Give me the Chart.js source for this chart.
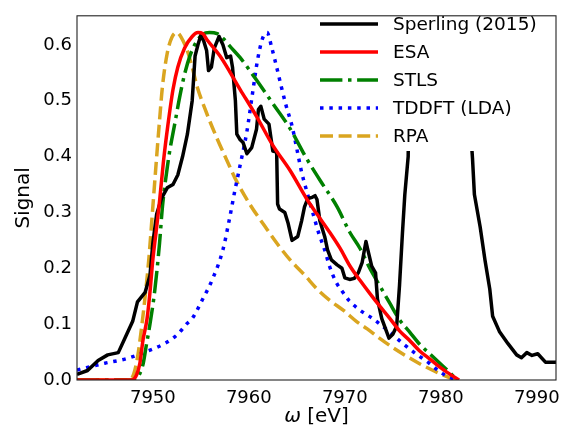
<!DOCTYPE html>
<html>
<head>
<meta charset="utf-8">
<script src="https://cdn.jsdelivr.net/npm/chart.js@4.4.1/dist/chart.umd.min.js"></script>
<style>
  html, body { margin: 0; padding: 0; background: #fff; }
  #wrap { width: 576px; height: 431px; }
</style>
</head>
<body>
<div id="wrap"><canvas id="chart" width="576" height="431"></canvas></div>
<script>
// [energy (eV), signal] pairs
const sperling = [
  [7942.1, 0.010], [7943.2, 0.017], [7944.3, 0.035], [7945.3, 0.045], [7946.4, 0.049],
  [7947.1, 0.075], [7947.9, 0.105], [7948.4, 0.140], [7949.2, 0.157], [7949.7, 0.187],
  [7950.0, 0.245], [7950.4, 0.297], [7950.9, 0.325], [7951.5, 0.344], [7952.1, 0.350],
  [7952.6, 0.367], [7953.1, 0.400], [7953.6, 0.440], [7954.1, 0.500], [7954.4, 0.580],
  [7954.7, 0.600], [7955.0, 0.617], [7955.3, 0.607], [7955.6, 0.590], [7955.8, 0.554],
  [7956.1, 0.560], [7956.4, 0.594], [7956.9, 0.615], [7957.3, 0.600], [7957.7, 0.577],
  [7958.1, 0.580], [7958.3, 0.560], [7958.6, 0.500], [7958.75, 0.440], [7959.1, 0.430],
  [7959.4, 0.425], [7959.8, 0.405], [7960.3, 0.416], [7960.8, 0.449], [7961.0, 0.484],
  [7961.25, 0.490], [7961.6, 0.467], [7962.1, 0.458], [7962.5, 0.410], [7962.9, 0.408],
  [7963.0, 0.315], [7963.2, 0.306], [7963.75, 0.300], [7964.1, 0.280], [7964.5, 0.250],
  [7965.1, 0.257], [7965.5, 0.285], [7965.8, 0.310], [7966.15, 0.325], [7966.6, 0.327],
  [7966.9, 0.330], [7967.1, 0.323], [7967.4, 0.285], [7967.9, 0.257], [7968.2, 0.233],
  [7968.6, 0.215], [7969.2, 0.206], [7969.7, 0.200], [7970.0, 0.183], [7970.5, 0.180],
  [7971.0, 0.182], [7971.4, 0.192], [7971.8, 0.210], [7972.2, 0.248], [7972.4, 0.233],
  [7972.8, 0.204], [7973.2, 0.192], [7973.4, 0.145], [7973.85, 0.110], [7974.6, 0.075],
  [7975.0, 0.082], [7975.4, 0.096], [7975.7, 0.170], [7976.0, 0.262], [7976.25, 0.332],
  [7976.6, 0.400], [7976.8, 0.650], [7978.0, 0.950], [7980.0, 1.000], [7981.5, 0.900],
  [7982.3, 0.650], [7983.3, 0.397], [7983.5, 0.332], [7984.1, 0.274], [7984.6, 0.215],
  [7985.1, 0.163], [7985.4, 0.114], [7986.1, 0.087], [7987.0, 0.065], [7987.9, 0.045],
  [7988.4, 0.040], [7988.96, 0.049], [7989.5, 0.044], [7990.1, 0.047], [7990.9, 0.032],
  [7992.0, 0.032]
];

const esa = [
  [7942.1, 0], [7947.8, 0], [7948.3, 0.009], [7948.65, 0.03], [7948.96, 0.07],
  [7949.4, 0.11], [7949.7, 0.157], [7950.0, 0.215], [7950.4, 0.274], [7950.7, 0.32],
  [7951.1, 0.39], [7951.56, 0.455], [7952.1, 0.52], [7952.6, 0.56], [7953.3, 0.594],
  [7954.1, 0.615], [7954.7, 0.622], [7955.2, 0.62], [7955.6, 0.61], [7957.0, 0.58],
  [7959.1, 0.52], [7960.8, 0.472], [7962.5, 0.42], [7964.3, 0.375], [7966.0, 0.325],
  [7967.1, 0.297], [7968.4, 0.265], [7969.5, 0.236], [7970.5, 0.205], [7971.6, 0.178],
  [7972.6, 0.155], [7973.6, 0.133], [7974.7, 0.11], [7975.7, 0.088], [7976.8, 0.07],
  [7977.8, 0.052], [7978.9, 0.037], [7979.9, 0.023], [7980.9, 0.011], [7981.9, 0]
];

const stls = [
  [7942.1, 0], [7948.2, 0], [7948.6, 0.01], [7949.0, 0.03], [7949.3, 0.06],
  [7949.7, 0.1], [7950.2, 0.16], [7950.7, 0.245], [7951.0, 0.31], [7951.5, 0.38],
  [7951.8, 0.414], [7952.3, 0.46], [7952.8, 0.507], [7953.3, 0.547], [7953.9, 0.582],
  [7954.6, 0.607], [7955.2, 0.619], [7955.9, 0.622], [7956.7, 0.62], [7957.3, 0.612],
  [7958.0, 0.598], [7959.1, 0.577], [7960.8, 0.537], [7962.5, 0.495], [7964.3, 0.45],
  [7966.0, 0.397], [7967.4, 0.358], [7969.2, 0.31], [7970.5, 0.265], [7971.6, 0.235],
  [7972.6, 0.2], [7973.6, 0.17], [7974.7, 0.137], [7975.7, 0.108], [7976.8, 0.085],
  [7977.8, 0.064], [7978.9, 0.046], [7979.9, 0.03], [7980.9, 0.014], [7981.7, 0]
];

const tddft = [
  [7942.1, 0.018], [7945.0, 0.03], [7947.2, 0.038], [7949.2, 0.05], [7951.3, 0.066],
  [7952.6, 0.082], [7953.5, 0.1], [7954.1, 0.11], [7955.2, 0.145], [7956.2, 0.18],
  [7957.3, 0.233], [7958.0, 0.29], [7958.5, 0.335], [7959.1, 0.385], [7959.8, 0.445],
  [7960.4, 0.515], [7960.9, 0.572], [7961.4, 0.61], [7961.9, 0.622], [7962.4, 0.594],
  [7962.9, 0.56], [7963.4, 0.524], [7963.9, 0.49], [7964.5, 0.455], [7965.0, 0.414],
  [7965.5, 0.372], [7966.0, 0.34], [7966.7, 0.297], [7967.3, 0.262], [7967.9, 0.233],
  [7968.4, 0.204], [7969.1, 0.175], [7969.8, 0.157], [7970.4, 0.143], [7971.5, 0.126],
  [7972.9, 0.11], [7974.6, 0.087], [7976.0, 0.066], [7977.4, 0.047], [7978.8, 0.03],
  [7979.8, 0.016], [7981.0, 0.004], [7981.8, 0]
];

const rpa = [
  [7942.1, 0], [7947.5, 0], [7948.0, 0.01], [7948.4, 0.04], [7948.8, 0.09],
  [7949.2, 0.15], [7949.6, 0.22], [7950.0, 0.31], [7950.4, 0.40], [7950.7, 0.465],
  [7951.0, 0.525], [7951.5, 0.585], [7952.0, 0.614], [7952.5, 0.622], [7953.0, 0.612],
  [7953.6, 0.589], [7954.1, 0.56], [7954.6, 0.526], [7955.6, 0.478], [7956.7, 0.432],
  [7957.8, 0.39], [7958.6, 0.36], [7960.2, 0.312], [7961.6, 0.277], [7963.0, 0.243],
  [7964.3, 0.215], [7965.8, 0.188], [7967.1, 0.163], [7968.4, 0.143], [7969.9, 0.124],
  [7971.2, 0.105], [7972.3, 0.092], [7973.6, 0.075], [7975.0, 0.058], [7976.3, 0.044],
  [7977.7, 0.03], [7979.2, 0.017], [7980.2, 0.009], [7981.3, 0.002], [7981.8, 0]
];

const xTicks = [7950, 7960, 7970, 7980, 7990];
const yTicks = [0.0, 0.1, 0.2, 0.3, 0.4, 0.5, 0.6];

const FONT = 'DejaVu Sans';
const LW = 3.5;

const toPts = arr => arr.map(p => ({ x: p[0], y: p[1] }));

// legend order = dataset order; "order" only sets who is drawn on top
const datasets = [
  { label: 'Sperling (2015)', data: toPts(sperling), borderColor: '#000000', order: 1,
    tension: 0, borderJoinStyle: 'round', clip: { left: 0, top: 0, right: 0, bottom: 3 } },
  { label: 'ESA', data: toPts(esa), borderColor: '#ff0000', order: 0 },
  { label: 'STLS', data: toPts(stls), borderColor: '#008000', order: 2,
    borderDash: [22.4, 5.6, 3.5, 5.6] },
  { label: 'TDDFT (LDA)', data: toPts(tddft), borderColor: '#0000ff', order: 3,
    borderDash: [3.5, 5.8] },
  { label: 'RPA', data: toPts(rpa), borderColor: '#daa520', order: 4,
    borderDash: [13, 5.6] }
];
datasets.forEach(d => {
  d.borderWidth = LW;
  d.pointRadius = 0;
  d.fill = false;
  if (d.tension === undefined) d.cubicInterpolationMode = 'monotone';
});

// legend drawn inside the axes on a white box, above the curves
const boxLegend = {
  id: 'boxLegend',
  afterDatasetsDraw(chart) {
    const ctx = chart.ctx;
    const area = chart.chartArea;
    ctx.save();
    ctx.fillStyle = '#ffffff';
    ctx.fillRect(310, 9, area.right - 310, 142);
    chart.data.datasets.forEach((d, i) => {
      const y = 24 + i * 28;
      ctx.beginPath();
      ctx.strokeStyle = d.borderColor;
      ctx.lineWidth = LW;
      ctx.lineCap = 'butt';
      ctx.setLineDash(d.borderDash || []);
      ctx.moveTo(320, y);
      ctx.lineTo(378, y);
      ctx.stroke();
      ctx.setLineDash([]);
      ctx.fillStyle = '#000';
      ctx.font = '18.5px "' + FONT + '"';
      ctx.textBaseline = 'middle';
      ctx.textAlign = 'left';
      ctx.fillText(d.label, 393, y + 1);
    });
    ctx.restore();
  }
};

// axes frame and the x label with italic omega
const frame = {
  id: 'frame',
  afterDraw(chart) {
    const ctx = chart.ctx;
    const a = chart.chartArea;
    ctx.save();
    ctx.strokeStyle = '#222';
    ctx.lineWidth = 1.1;
    ctx.strokeRect(a.left, a.top, a.right - a.left, a.bottom - a.top);

    const sym = 'ω';
    const rest = ' [eV]';
    ctx.textBaseline = 'middle';
    ctx.fillStyle = '#000';
    ctx.font = 'italic 20px "' + FONT + '"';
    const w1 = ctx.measureText(sym).width;
    ctx.font = '20px "' + FONT + '"';
    const w2 = ctx.measureText(rest).width;
    const x0 = (a.left + a.right) / 2 - (w1 + w2) / 2;
    const yText = 417;
    ctx.font = 'italic 20px "' + FONT + '"';
    ctx.fillText(sym, x0, yText);
    ctx.font = '20px "' + FONT + '"';
    ctx.fillText(rest, x0 + w1, yText);
    ctx.restore();
  }
};

new Chart(document.getElementById('chart').getContext('2d'), {
  type: 'line',
  data: { datasets: datasets },
  options: {
    responsive: false,
    animation: false,
    devicePixelRatio: 1,
    layout: { padding: { left: 0, right: 20, top: 7, bottom: 0 } },
    plugins: { legend: { display: false }, tooltip: { enabled: false } },
    scales: {
      x: {
        type: 'linear',
        min: 7942.1,
        max: 7992,
        grid: { display: false, drawTicks: false },
        border: { display: false },
        afterBuildTicks: s => { s.ticks = xTicks.map(v => ({ value: v })); },
        afterFit: s => { s.height = 51; },
        ticks: {
          color: '#000',
          padding: 8,
          maxRotation: 0,
          font: { family: FONT, size: 18 },
          callback: v => String(v)
        }
      },
      y: {
        min: 0,
        max: 0.652,
        grid: { display: false, drawTicks: false },
        border: { display: false },
        afterBuildTicks: s => { s.ticks = yTicks.map(v => ({ value: v })); },
        afterFit: s => { s.width = 77; },
        title: {
          display: true,
          text: 'Signal',
          color: '#000',
          font: { family: FONT, size: 20 },
          padding: { top: 12, bottom: 0 }
        },
        ticks: {
          color: '#000',
          padding: 5,
          font: { family: FONT, size: 18 },
          callback: v => Number(v).toFixed(1)
        }
      }
    }
  },
  plugins: [boxLegend, frame]
});
</script>
</body>
</html>
